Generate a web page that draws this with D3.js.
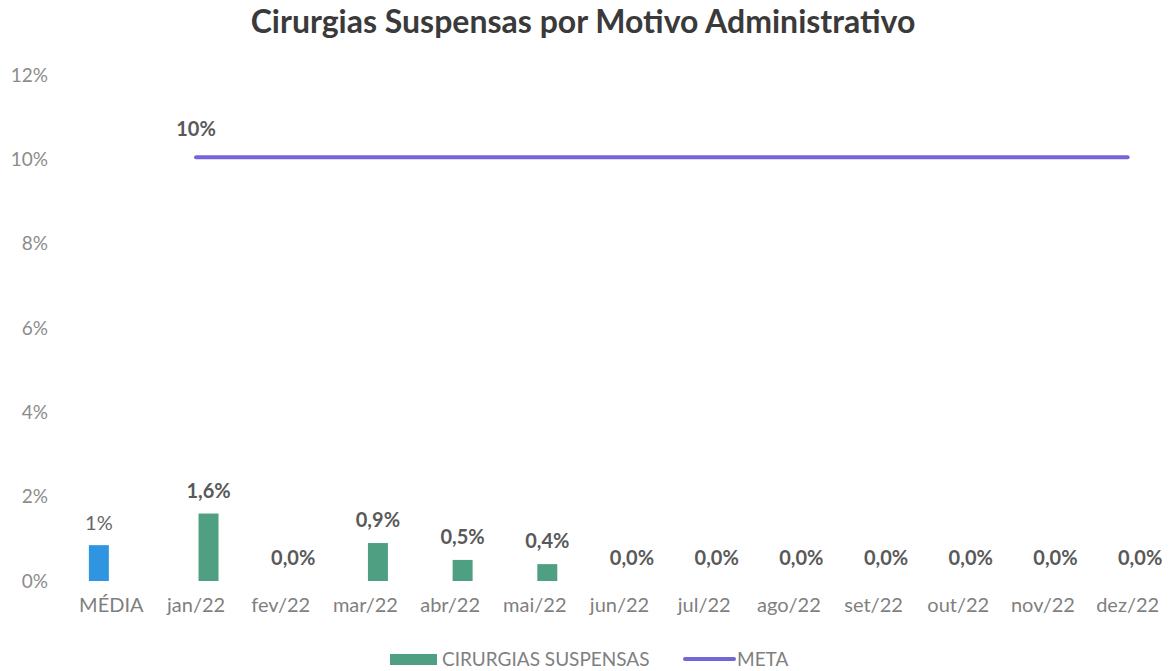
<!DOCTYPE html>
<html>
<head>
<meta charset="utf-8">
<script src="https://cdn.jsdelivr.net/npm/d3@7"></script>
<style>
  body { margin: 0; background: #fff; }
  text { font-family: Lato, "Open Sans", sans-serif; }
</style>
</head>
<body>
<div id="chart"></div>
<script>
// categories and series values (fractions)
var categories = ["MÉDIA", "jan/22", "fev/22", "mar/22", "abr/22", "mai/22", "jun/22",
  "jul/22", "ago/22", "set/22", "out/22", "nov/22", "dez/22"];
var mediaValues = [0.0085];
var cirurgiasValues = [null, 0.016, 0, 0.009, 0.005, 0.004, 0, 0, 0, 0, 0, 0, 0];
var metaValues = [null, 0.10, 0.10, 0.10, 0.10, 0.10, 0.10, 0.10, 0.10, 0.10, 0.10, 0.10, 0.10];
var yTicks = [0, 0.02, 0.04, 0.06, 0.08, 0.10, 0.12];

var width = 1174, height = 671;

var svg = d3.select("#chart").append("svg")
  .attr("width", width)
  .attr("height", height);

var x = d3.scaleBand().domain(categories).range([69, 1170]).padding(0);
var sub = d3.scaleBand().domain(["media", "cir"])
  .range([0, x.bandwidth()])
  .paddingInner(0.2)
  .paddingOuter(0.795);
var y = d3.scaleLinear().domain([0, 0.12]).range([581, 75]);

var pct0 = d3.format(".0%");
function pct1(v) {
  return d3.format(".1%")(v).replace(".", ",");
}

// title
svg.append("text")
  .attr("x", 583)
  .attr("y", 33)
  .attr("text-anchor", "middle")
  .style("font-size", "32px")
  .style("font-weight", "bold")
  .style("fill", "#3a3a3a")
  .text("Cirurgias Suspensas por Motivo Administrativo");

// y axis labels (no line)
var yAxis = svg.append("g")
  .attr("transform", "translate(48,0)")
  .call(d3.axisLeft(y).tickValues(yTicks).tickFormat(pct0).tickSize(0).tickPadding(0));
yAxis.select(".domain").remove();
yAxis.selectAll("text")
  .style("font-family", "Lato, sans-serif")
  .style("font-size", "19px")
  .style("fill", "#8c8c8c");

// x axis labels
var xAxis = svg.append("g")
  .attr("transform", "translate(0,598)")
  .call(d3.axisBottom(x).tickSize(0).tickPadding(0));
xAxis.select(".domain").remove();
xAxis.selectAll("text")
  .attr("dy", "0.71em")
  .style("font-family", "Lato, sans-serif")
  .style("font-size", "20px")
  .style("fill", "#7f7f7f");

// média bar
svg.append("rect")
  .attr("x", x(categories[0]) + sub("media"))
  .attr("y", y(mediaValues[0]))
  .attr("width", sub.bandwidth())
  .attr("height", y(0) - y(mediaValues[0]))
  .style("fill", "#2f95e0");

svg.append("text")
  .attr("x", x(categories[0]) + sub("media") + sub.bandwidth() / 2)
  .attr("y", y(mediaValues[0]) - 15)
  .attr("text-anchor", "middle")
  .style("font-size", "20px")
  .style("fill", "#666")
  .text(pct0(mediaValues[0]));

// cirurgias bars
var cirData = categories.map(function (c, i) {
  return { cat: c, v: cirurgiasValues[i] };
}).filter(function (d) { return d.v !== null; });

svg.selectAll(".bar")
  .data(cirData)
  .enter()
  .append("rect")
  .attr("class", "bar")
  .attr("x", function (d) { return x(d.cat) + sub("cir"); })
  .attr("y", function (d) { return y(d.v); })
  .attr("width", sub.bandwidth())
  .attr("height", function (d) { return y(0) - y(d.v); })
  .style("fill", "#4f9f82");

svg.selectAll(".bar-label")
  .data(cirData)
  .enter()
  .append("text")
  .attr("class", "bar-label")
  .attr("x", function (d) { return x(d.cat) + sub("cir") + sub.bandwidth() / 2; })
  .attr("y", function (d) { return y(d.v) - 16; })
  .attr("text-anchor", "middle")
  .style("font-size", "20px")
  .style("font-weight", "bold")
  .style("fill", "#595959")
  .text(function (d) { return pct1(d.v); });

// meta line
var metaData = categories.map(function (c, i) {
  return { cat: c, v: metaValues[i] };
}).filter(function (d) { return d.v !== null; });

var line = d3.line()
  .x(function (d) { return x(d.cat) + x.bandwidth() / 2; })
  .y(function (d) { return y(d.v) - 2; });

svg.append("path")
  .datum(metaData)
  .attr("d", line)
  .style("fill", "none")
  .style("stroke", "#7466d8")
  .style("stroke-width", 4)
  .style("stroke-linecap", "round");

svg.append("text")
  .attr("x", x(metaData[0].cat) + x.bandwidth() / 2)
  .attr("y", y(metaData[0].v) - 23)
  .attr("text-anchor", "middle")
  .style("font-size", "20px")
  .style("font-weight", "bold")
  .style("fill", "#595959")
  .text(pct0(metaData[0].v));

// legend
var legend = svg.append("g");
legend.append("rect")
  .attr("x", 390).attr("y", 654)
  .attr("width", 47).attr("height", 11)
  .style("fill", "#4f9f82");
legend.append("text")
  .attr("x", 442).attr("y", 666)
  .style("font-size", "19px")
  .style("fill", "#7f7f7f")
  .text("CIRURGIAS SUSPENSAS");
legend.append("line")
  .attr("x1", 685).attr("x2", 734)
  .attr("y1", 659).attr("y2", 659)
  .style("stroke", "#7466d8")
  .style("stroke-width", 4)
  .style("stroke-linecap", "round");
legend.append("text")
  .attr("x", 737).attr("y", 666)
  .style("font-size", "19px")
  .style("fill", "#7f7f7f")
  .text("META");
</script>
</body>
</html>
